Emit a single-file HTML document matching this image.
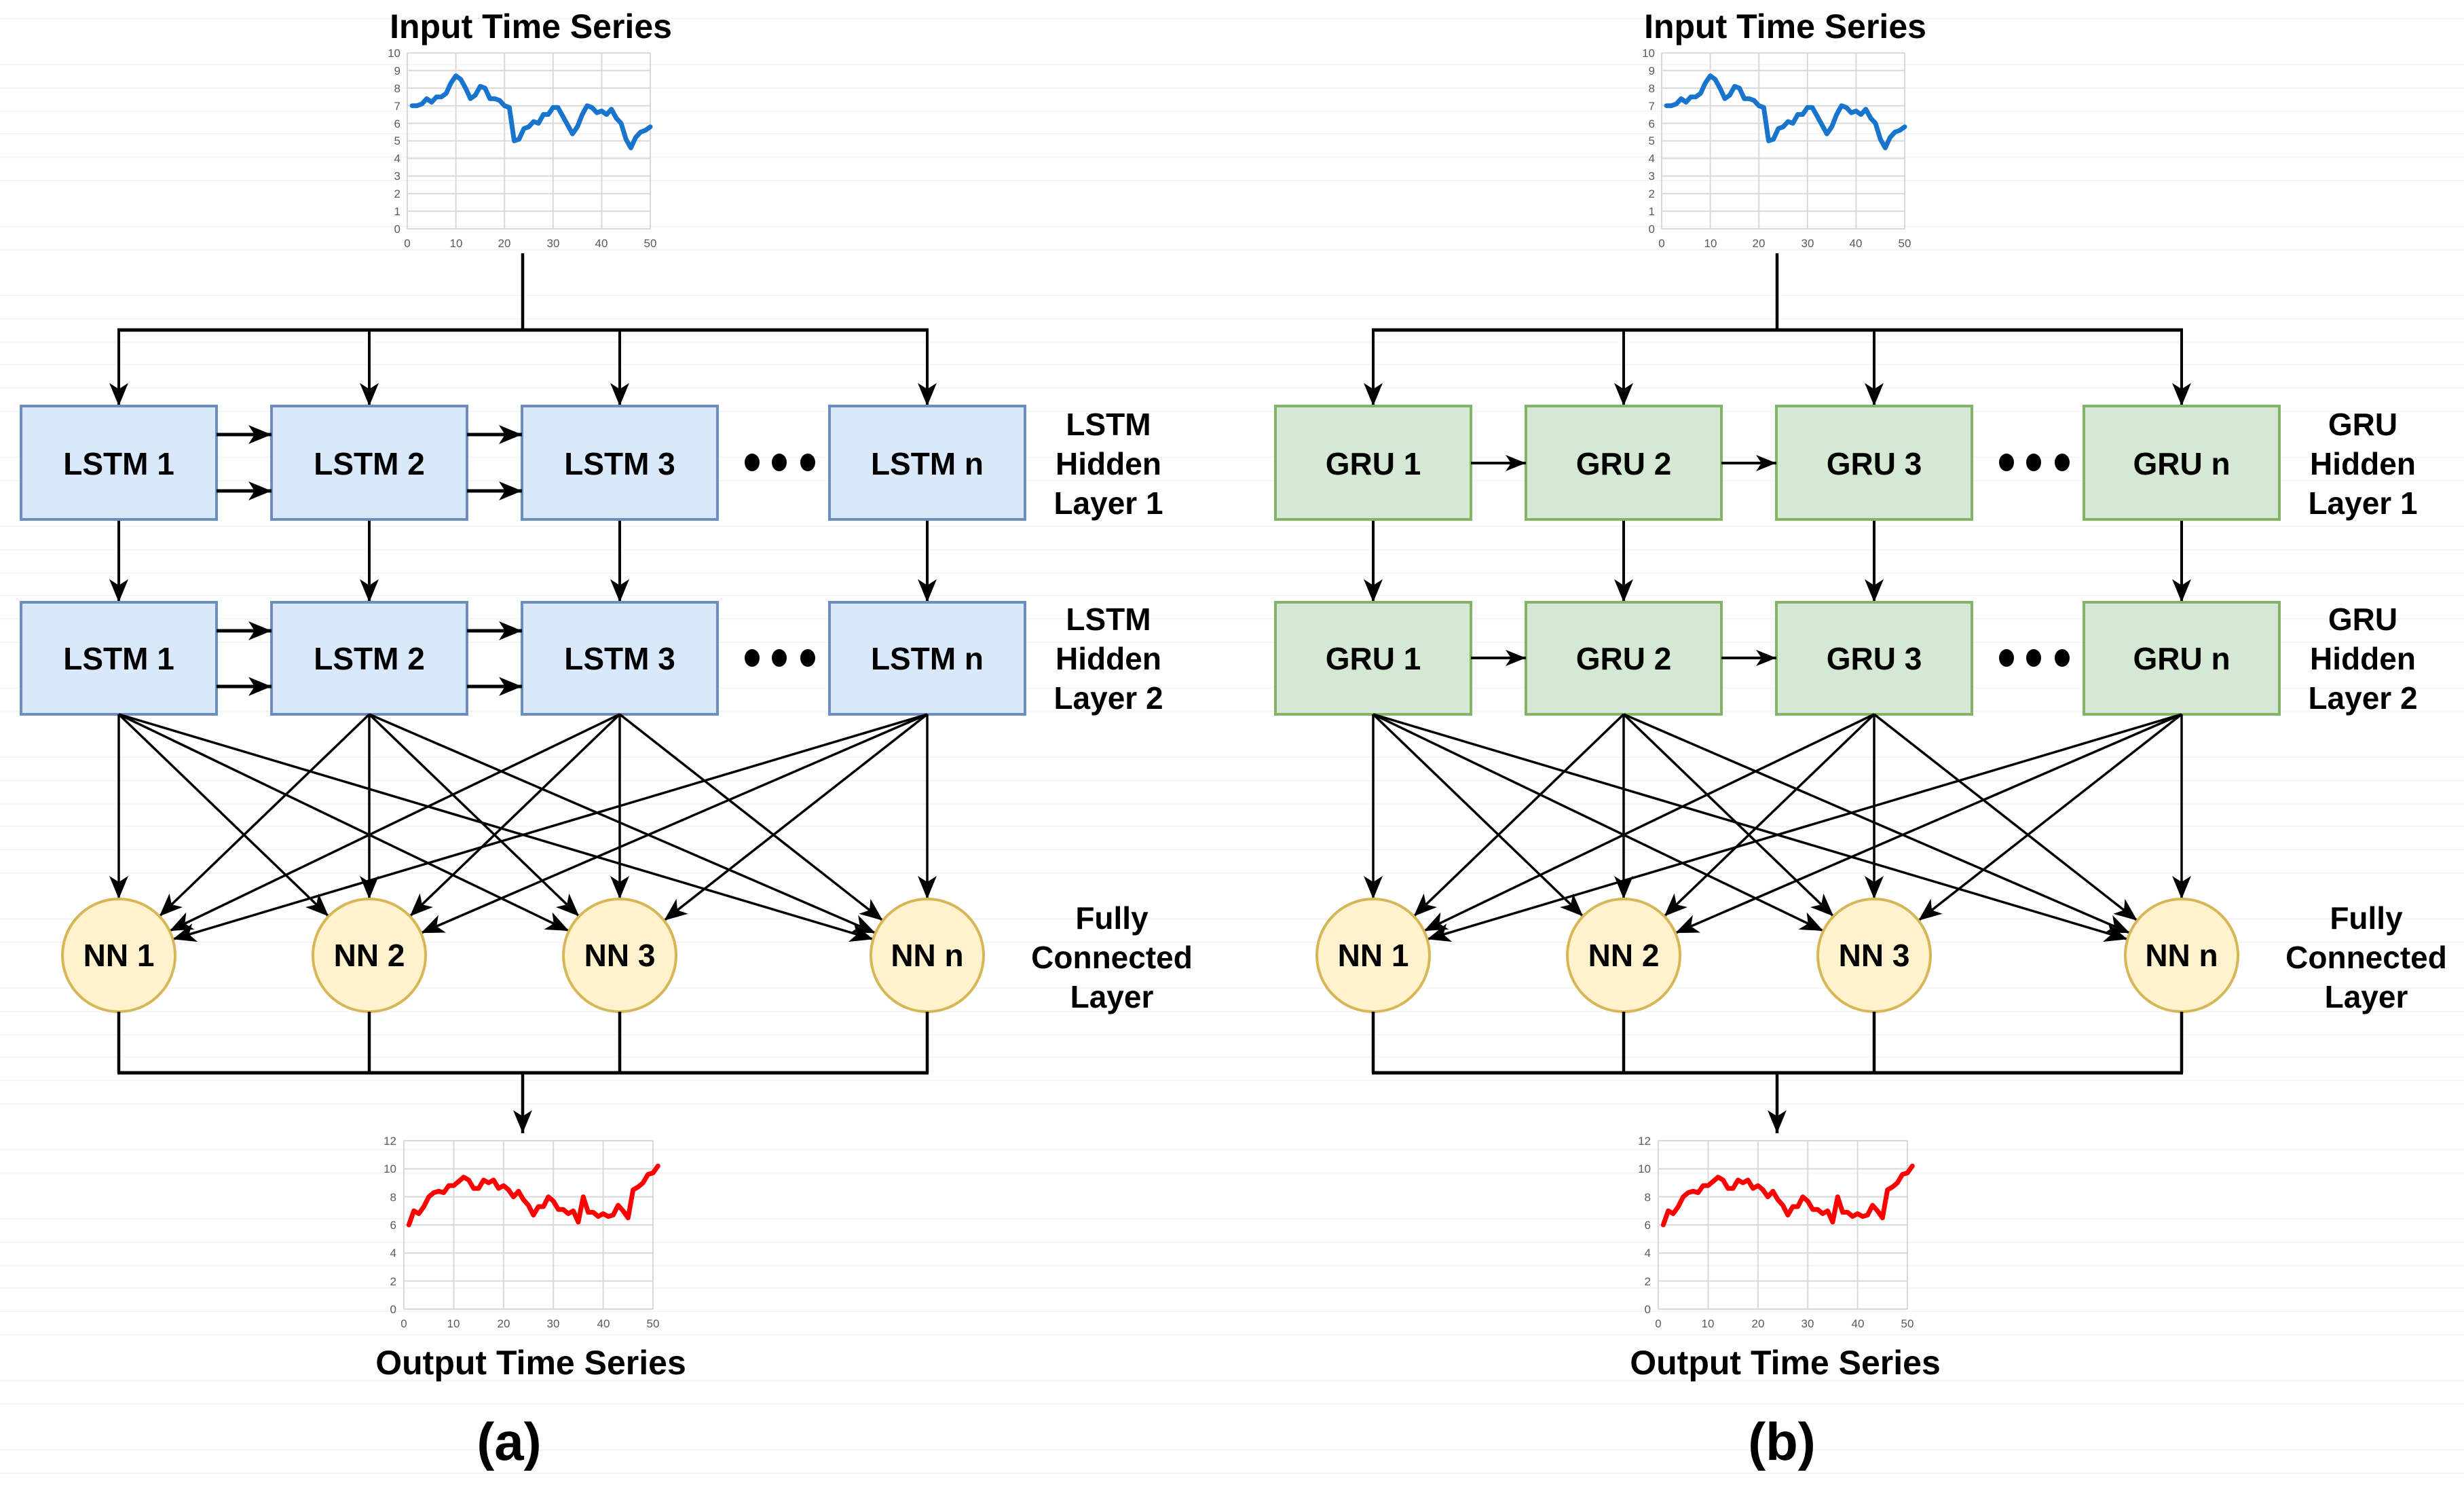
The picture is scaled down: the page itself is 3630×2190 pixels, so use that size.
<!DOCTYPE html>
<html><head><meta charset="utf-8"><style>
html,body{margin:0;padding:0;background:#fff}
body{width:3630px;height:2190px;overflow:hidden;
background-image:repeating-linear-gradient(to bottom,transparent 0,transparent 33px,#f1f1f1 33px,#f1f1f1 34px);background-position:0 -6px}
svg{position:absolute;left:0;top:0}
text{font-family:"Liberation Sans",sans-serif}
.b{font-weight:bold;font-size:46px;text-anchor:middle;fill:#000}
.t{font-size:17px;fill:#595959}
</style></head><body>
<svg id="s" width="3630" height="2190" viewBox="0 0 3630 2190" xmlns="http://www.w3.org/2000/svg">
<defs><marker id="a" markerUnits="userSpaceOnUse" markerWidth="36" markerHeight="30" refX="34" refY="14" orient="auto"><path d="M0,0 L34,14 L0,28 L9,14 Z" fill="#000"/></marker>
<marker id="h" markerUnits="userSpaceOnUse" markerWidth="36" markerHeight="30" refX="30" refY="12" orient="auto"><path d="M0,0 L30,12 L0,24 L8,12 Z" fill="#000"/></marker></defs>
<g id="g"></g>
<g id="txt">
<text class="b" x="782" y="56" style="font-size:50px">Input Time Series</text>
<text class="b" x="2630" y="56" style="font-size:50px">Input Time Series</text>
<text class="b" x="782" y="2024" style="font-size:50px">Output Time Series</text>
<text class="b" x="2630" y="2024" style="font-size:50px">Output Time Series</text>
<text class="b" x="750" y="2150" style="font-size:78px">(a)</text>
<text class="b" x="2625" y="2150" style="font-size:78px">(b)</text>

<text class="b" x="175" y="699">LSTM 1</text><text class="b" x="544" y="699">LSTM 2</text><text class="b" x="913" y="699">LSTM 3</text><text class="b" x="1366" y="699">LSTM n</text>
<text class="b" x="175" y="986">LSTM 1</text><text class="b" x="544" y="986">LSTM 2</text><text class="b" x="913" y="986">LSTM 3</text><text class="b" x="1366" y="986">LSTM n</text>
<text class="b" x="2023" y="699">GRU 1</text><text class="b" x="2392" y="699">GRU 2</text><text class="b" x="2761" y="699">GRU 3</text><text class="b" x="3214" y="699">GRU n</text>
<text class="b" x="2023" y="986">GRU 1</text><text class="b" x="2392" y="986">GRU 2</text><text class="b" x="2761" y="986">GRU 3</text><text class="b" x="3214" y="986">GRU n</text>
<text class="b" x="175" y="1423">NN 1</text><text class="b" x="544" y="1423">NN 2</text><text class="b" x="913" y="1423">NN 3</text><text class="b" x="1366" y="1423">NN n</text>
<text class="b" x="2023" y="1423">NN 1</text><text class="b" x="2392" y="1423">NN 2</text><text class="b" x="2761" y="1423">NN 3</text><text class="b" x="3214" y="1423">NN n</text>

<text class="b" x="1633" y="641">LSTM</text><text class="b" x="1633" y="699">Hidden</text><text class="b" x="1633" y="757">Layer 1</text>
<text class="b" x="1633" y="928">LSTM</text><text class="b" x="1633" y="986">Hidden</text><text class="b" x="1633" y="1044">Layer 2</text>
<text class="b" x="1638" y="1368">Fully</text><text class="b" x="1638" y="1426">Connected</text><text class="b" x="1638" y="1484">Layer</text>
<text class="b" x="3481" y="641">GRU</text><text class="b" x="3481" y="699">Hidden</text><text class="b" x="3481" y="757">Layer 1</text>
<text class="b" x="3481" y="928">GRU</text><text class="b" x="3481" y="986">Hidden</text><text class="b" x="3481" y="1044">Layer 2</text>
<text class="b" x="3486" y="1368">Fully</text><text class="b" x="3486" y="1426">Connected</text><text class="b" x="3486" y="1484">Layer</text>
</g>
</svg>
<script>
var g=document.getElementById('g'),NS='http://www.w3.org/2000/svg';
function el(n,a,p){var e=document.createElementNS(NS,n);for(var k in a)e.setAttribute(k,a[k]);(p||g).appendChild(e);return e;}
function ln(x1,y1,x2,y2,arr,w){var o={x1:x1,y1:y1,x2:x2,y2:y2,stroke:'#000','stroke-width':w||4};if(arr)o['marker-end']=arr==2?'url(#h)':'url(#a)';el('line',o);}
var blueY=[7,7,7.1,7.4,7.2,7.5,7.5,7.7,8.3,8.7,8.5,8,7.4,7.6,8.1,8,7.4,7.4,7.3,7,6.9,5,5.1,5.7,5.8,6.1,6,6.5,6.5,6.9,6.9,6.4,5.9,5.4,5.8,6.5,7,6.9,6.6,6.7,6.5,6.8,6.3,6,5.1,4.6,5.2,5.5,5.6,5.8];
var redY=[6,7,6.8,7.3,8,8.3,8.4,8.3,8.8,8.8,9.1,9.4,9.2,8.6,8.6,9.2,9,9.2,8.6,8.8,8.5,8,8.4,7.8,7.4,6.7,7.3,7.3,8,7.7,7.1,7.1,6.8,7,6.2,8,6.9,6.9,6.6,6.8,6.6,6.7,7.4,7,6.5,8.5,8.7,9,9.6,9.7,10.2];
function chart(x0,y0,x1,y1,ymax,ystep,data,col,lw){
 for(var v=0;v<=ymax;v+=ystep){var y=y1-(y1-y0)*v/ymax;el('line',{x1:x0,y1:y,x2:x1,y2:y,stroke:'#d9d9d9','stroke-width':2});}
 for(var t=0;t<=50;t+=10){var x=x0+(x1-x0)*t/50;el('line',{x1:x,y1:y0,x2:x,y2:y1,stroke:'#d9d9d9','stroke-width':2});}
 var pts=data.map(function(v,i){return (x0+(x1-x0)*(i+1)/50)+','+(y1-(y1-y0)*v/ymax);}).join(' ');
 el('polyline',{points:pts,fill:'none',stroke:col,'stroke-width':lw,'stroke-linejoin':'round','stroke-linecap':'round'});
}
var cx=[175,544,913,1366];
function panel(dx,lstm){
 var fill=lstm?'#dae8fc':'#d5e8d4',st=lstm?'#6c8ebf':'#82b366';
 chart(600+dx,78,958+dx,337,10,1,blueY,'#1874cd',7);
 chart(595+dx,1680,962+dx,1928,12,2,redY,'#ff0000',7);
 ln(770+dx,373,770+dx,486,0,4.5);ln(173+dx,486,1368+dx,486,0,5);
 cx.forEach(function(c){c+=dx;ln(c,486,c,598,1);ln(c,765,c,887,1);});
 cx.forEach(function(c){c+=dx;el('rect',{x:c-144,y:598,width:288,height:167,fill:fill,stroke:st,'stroke-width':4});el('rect',{x:c-144,y:887,width:288,height:165,fill:fill,stroke:st,'stroke-width':4});});
 for(var i=0;i<2;i++){var a=cx[i]+144+dx,b=cx[i+1]-144+dx;
  if(lstm){ln(a,640,b,640,1,5);ln(a,723,b,723,1,5);ln(a,929,b,929,1,5);ln(a,1011,b,1011,1,5);}
  else{ln(a,682,b,682,2);ln(a,969,b,969,2);}}
 [681,969].forEach(function(y){[1108,1148,1190].forEach(function(x){el('ellipse',{cx:x+dx,cy:y,rx:11,ry:13,fill:'#000'});});});
 cx.forEach(function(s){cx.forEach(function(t){var sx=s+dx,sy=1052,tx=t+dx,ty=1407;var ddx=tx-sx,ddy=ty-sy,L=Math.hypot(ddx,ddy);ln(sx,sy,tx-ddx*83/L,ty-ddy*83/L,1,3.5);});});
 cx.forEach(function(c){c+=dx;el('ellipse',{cx:c,cy:1407,rx:83,ry:83,fill:'#fff2cc',stroke:'#d6b656','stroke-width':4});ln(c,1490,c,1580,0,4.5);});
 ln(173+dx,1580,1368+dx,1580,0,5);ln(770+dx,1580,770+dx,1669,1,4.5);
}
panel(0,true);panel(1848,false);
</script>
<svg width="3630" height="2190" style="pointer-events:none">
<g font-family="Liberation Sans, sans-serif" font-size="17" fill="#595959" text-anchor="end">
<text x="590" y="343">0</text><text x="590" y="317">1</text><text x="590" y="291">2</text><text x="590" y="265">3</text><text x="590" y="239">4</text><text x="590" y="213">5</text><text x="590" y="188">6</text><text x="590" y="162">7</text><text x="590" y="136">8</text><text x="590" y="110">9</text><text x="590" y="84">10</text>
<text x="2438" y="343">0</text><text x="2438" y="317">1</text><text x="2438" y="291">2</text><text x="2438" y="265">3</text><text x="2438" y="239">4</text><text x="2438" y="213">5</text><text x="2438" y="188">6</text><text x="2438" y="162">7</text><text x="2438" y="136">8</text><text x="2438" y="110">9</text><text x="2438" y="84">10</text>
<text x="584" y="1934">0</text><text x="584" y="1893">2</text><text x="584" y="1851">4</text><text x="584" y="1810">6</text><text x="584" y="1769">8</text><text x="584" y="1727">10</text><text x="584" y="1686">12</text>
<text x="2432" y="1934">0</text><text x="2432" y="1893">2</text><text x="2432" y="1851">4</text><text x="2432" y="1810">6</text><text x="2432" y="1769">8</text><text x="2432" y="1727">10</text><text x="2432" y="1686">12</text>
</g>
<g font-family="Liberation Sans, sans-serif" font-size="17" fill="#595959" text-anchor="middle">
<text x="600" y="364">0</text><text x="672" y="364">10</text><text x="743" y="364">20</text><text x="815" y="364">30</text><text x="886" y="364">40</text><text x="958" y="364">50</text>
<text x="2448" y="364">0</text><text x="2520" y="364">10</text><text x="2591" y="364">20</text><text x="2663" y="364">30</text><text x="2734" y="364">40</text><text x="2806" y="364">50</text>
<text x="595" y="1955">0</text><text x="668" y="1955">10</text><text x="742" y="1955">20</text><text x="815" y="1955">30</text><text x="889" y="1955">40</text><text x="962" y="1955">50</text>
<text x="2443" y="1955">0</text><text x="2516" y="1955">10</text><text x="2590" y="1955">20</text><text x="2663" y="1955">30</text><text x="2737" y="1955">40</text><text x="2810" y="1955">50</text>
</g>
</svg>
</body></html>
